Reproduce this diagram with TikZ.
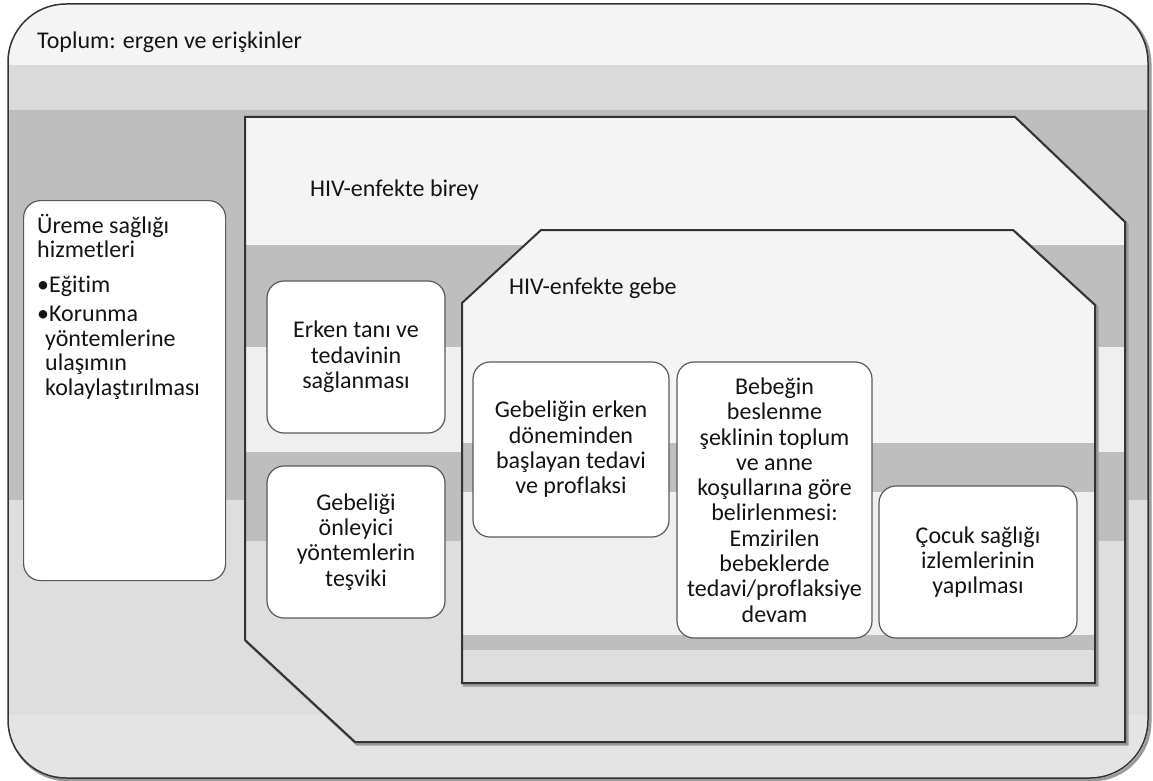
\documentclass[tikz,border=0pt]{standalone}
\usepackage{fontspec}
\setmainfont{Carlito}[Ligatures=NoCommon]
\definecolor{acik}{HTML}{F4F4F4}
\definecolor{acikiki}{HTML}{EFEFEF}
\definecolor{gri}{HTML}{DADADA}
\definecolor{koyu}{HTML}{BEBEBE}
\definecolor{griiki}{HTML}{DEDEDE}
\definecolor{griuc}{HTML}{E4E4E4}
\definecolor{cizgi}{HTML}{333333}
\definecolor{golgerenk}{HTML}{9A9A9A}
\definecolor{kutucizgi}{HTML}{5A5A5A}
\definecolor{yazi}{HTML}{141414}
\begin{document}
\begin{tikzpicture}[x=1pt, y=-1pt,
        font=\fontsize{24}{25.3}\selectfont,
        kutu/.style={draw=kutucizgi, fill=white, rounded corners=17, line width=1.2, align=center, inner sep=0pt, text=yazi},
        baslik/.style={anchor=west, inner sep=0pt, text=yazi},
        cerceve/.style={draw=cizgi, line width=2},
        golge/.style={draw=golgerenk, line width=3}]
        \useasboundingbox (0,0) rectangle (1153,781);
        \fill[white] (0,0) rectangle (1153,781);
        \draw[golge, rounded corners=58] (10,6) rectangle (1150,780);
        \begin{scope}
            \clip[rounded corners=58] (8,4) rectangle (1148,778);
            \fill[acik] (0,0) rectangle (1153,65);
            \fill[gri] (0,65) rectangle (1153,110);
            \fill[koyu] (0,110) rectangle (1153,500);
            \fill[griiki] (0,500) rectangle (1153,715);
            \fill[griuc] (0,715) rectangle (1153,781);
        \end{scope}
        \draw[cerceve, line width=1.5, rounded corners=58] (8,4) rectangle (1148,778);
        \draw[golge, shift={(2,2)}] (245,117) -- (1015,117) -- (1125,222) -- (1125,742) -- (355,742) -- (245,640) -- cycle;
        \begin{scope}
            \clip (245,117) -- (1015,117) -- (1125,222) -- (1125,742) -- (355,742) -- (245,640) -- cycle;
            \fill[acik] (0,110) rectangle (1153,245);
            \fill[koyu] (0,245) rectangle (1153,347);
            \fill[acikiki] (0,347) rectangle (1153,452);
            \fill[koyu] (0,452) rectangle (1153,541);
            \fill[griiki] (0,541) rectangle (1153,781);
        \end{scope}
        \draw[cerceve] (245,117) -- (1015,117) -- (1125,222) -- (1125,742) -- (355,742) -- (245,640) -- cycle;
        \draw[golge, shift={(2,2)}] (462,303) -- (541,230) -- (1013,230) -- (1095,305) -- (1095,683) -- (462,683) -- cycle;
        \begin{scope}
            \clip (462,303) -- (541,230) -- (1013,230) -- (1095,305) -- (1095,683) -- (462,683) -- cycle;
            \fill[acik] (0,220) rectangle (1153,443);
            \fill[koyu] (0,443) rectangle (1153,492);
            \fill[acikiki] (0,492) rectangle (1153,635);
            \fill[koyu] (0,635) rectangle (1153,650);
            \fill[griiki] (0,650) rectangle (1153,690);
        \end{scope}
        \draw[cerceve] (462,303) -- (541,230) -- (1013,230) -- (1095,305) -- (1095,683) -- (462,683) -- cycle;
        \node[baslik] (toplum) at (37,42) {Toplum: ergen ve erişkinler};
        \node[baslik] (birey) at (310,190) {HIV-enfekte birey};
        \node[baslik] (gebe) at (509,288) {HIV-enfekte gebe};
        \node[kutu, minimum width=202, minimum height=380, anchor=north west] (ureme) at (23,200) {};
        \node[anchor=north west, align=left, inner sep=0pt, text=yazi, font=\fontsize{24}{24.5}\selectfont] (uremeyazi) at ([shift={(14,14)}]ureme.north west) {Üreme sağlığı\\hizmetleri\\[10pt]•Eğitim\\[5pt]•Korunma\\\hspace*{8pt}yöntemlerine\\\hspace*{8pt}ulaşımın\\\hspace*{8pt}kolaylaştırılması};
        \node[kutu, minimum width=178, minimum height=152] (erken) at (356,357) {Erken tanı ve\\tedavinin\\sağlanması};
        \node[kutu, minimum width=178, minimum height=152] (onleme) at (356,542) {Gebeliği\\önleyici\\yöntemlerin\\teşviki};
        \node[kutu, minimum width=196, minimum height=175] (gebelik) at (571,449.5) {Gebeliğin erken\\döneminden\\başlayan tedavi\\ve proflaksi};
        \node[kutu, minimum width=195, minimum height=276] (beslenme) at (774.5,500) {Bebeğin\\beslenme\\şeklinin toplum\\ve anne\\koşullarına göre\\belirlenmesi:\\Emzirilen\\bebeklerde\\tedavi/proflaksiye\\devam};
        \node[kutu, minimum width=198, minimum height=152] (cocuk) at (978,562) {Çocuk sağlığı\\izlemlerinin\\yapılması};
\end{tikzpicture}
\end{document}
